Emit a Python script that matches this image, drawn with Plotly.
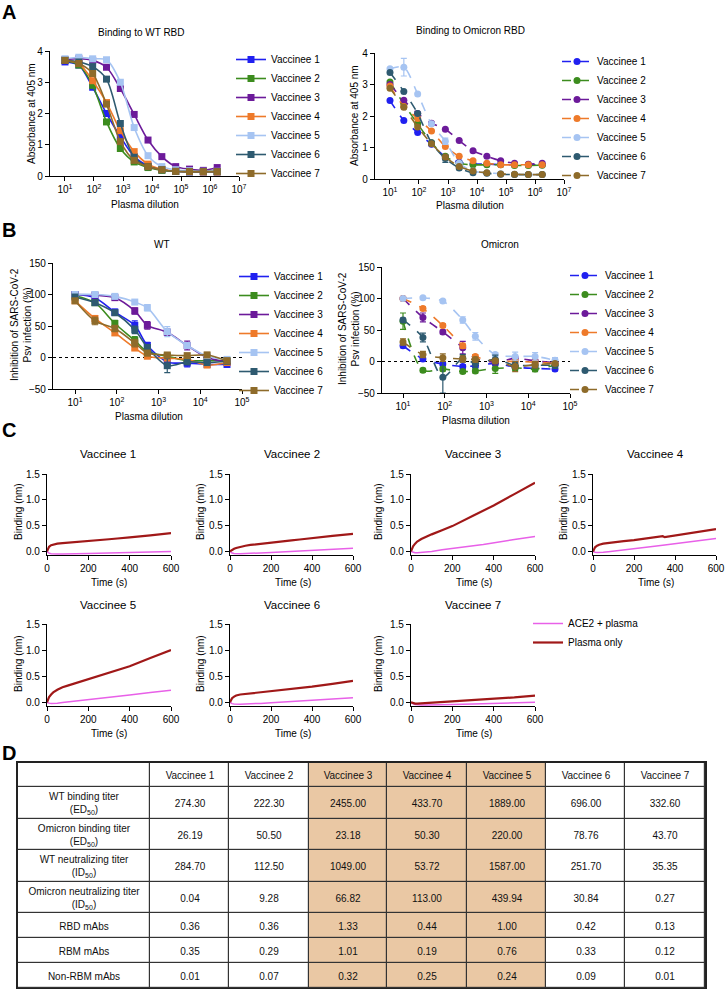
import plotly.graph_objects as go

FONT = "Arial, Liberation Sans, sans-serif"
W, H = 726, 989

names = ["Vaccinee 1", "Vaccinee 2", "Vaccinee 3", "Vaccinee 4",
         "Vaccinee 5", "Vaccinee 6", "Vaccinee 7"]
colors = ["#2020F0", "#3C8C1E", "#6C1A9A", "#EE7A2A", "#A6C4F2", "#2E5A70", "#8E6B2A"]

# A - ELISA binding, 3-fold dilutions
dil_binding = [10, 30, 90, 270, 810, 2430, 7290, 21870, 65610, 196830, 590490, 1771470]
wt_binding = [
    [3.65, 3.55, 2.84, 2.00, 1.26, 0.62, 0.33, 0.20, 0.15, 0.13, 0.13, 0.13],
    [3.70, 3.55, 2.90, 1.73, 0.88, 0.45, 0.27, 0.18, 0.15, 0.14, 0.14, 0.14],
    [3.72, 3.75, 3.70, 3.48, 2.80, 1.97, 1.15, 0.62, 0.30, 0.22, 0.18, 0.27],
    [3.70, 3.60, 3.05, 2.35, 1.45, 0.78, 0.38, 0.22, 0.15, 0.14, 0.13, 0.13],
    [3.75, 3.80, 3.75, 3.72, 3.00, 1.55, 0.65, 0.30, 0.20, 0.17, 0.15, 0.15],
    [3.70, 3.65, 3.50, 3.10, 1.68, 0.60, 0.30, 0.20, 0.15, 0.14, 0.14, 0.14],
    [3.70, 3.60, 3.28, 2.30, 1.10, 0.50, 0.30, 0.20, 0.15, 0.14, 0.14, 0.14],
]
omi_binding = [
    [2.49, 1.86, 1.48, 1.10, 0.71, 0.53, 0.48, 0.47, 0.46, 0.45, 0.45, 0.45],
    [3.08, 2.38, 1.75, 1.15, 0.72, 0.50, 0.45, 0.45, 0.45, 0.43, 0.43, 0.44],
    [3.00, 2.50, 2.08, 1.77, 1.58, 1.22, 0.90, 0.72, 0.58, 0.50, 0.47, 0.50],
    [2.95, 2.30, 1.92, 1.52, 1.03, 0.72, 0.58, 0.50, 0.45, 0.45, 0.45, 0.45],
    [3.50, 3.55, 2.70, 1.75, 1.20, 0.50, 0.25, 0.20, 0.17, 0.15, 0.14, 0.14],
    [3.38, 2.78, 2.08, 1.15, 0.65, 0.35, 0.20, 0.18, 0.15, 0.14, 0.14, 0.14],
    [2.88, 2.28, 1.65, 1.12, 0.70, 0.40, 0.25, 0.20, 0.16, 0.15, 0.14, 0.14],
]
omi_binding_err = [
    [0] * 12, [0] * 12, [0] * 12, [0] * 12,
    [0, 0.28, 0, 0, 0.1, 0, 0, 0, 0, 0, 0, 0],
    [0, 0, 0, 0, 0.12, 0.05, 0, 0, 0, 0, 0, 0],
    [0] * 12,
]

# B - pseudovirus neutralization
dil_neut = [10, 30, 90, 270, 540, 1620, 4860, 14580, 43740]
wt_neut = [
    [100, 95, 72, 51, 19, -7, -9, -11, -11],
    [98, 87, 54, 27, 9, 2, -5, -5, -5],
    [100, 99, 95, 74, 51, 40, 19, 0, -7],
    [90, 62, 39, 15, 2, -1, -3, -12, -8],
    [100, 100, 97, 88, 79, 41, 19, 2, -3],
    [96, 87, 71, 44, 16, -13, -7, -8, -6],
    [90, 58, 46, 23, 7, 4, 3, 4, -5],
]
wt_neut_err = [
    [2, 3, 5, 7, 5, 8, 6, 4, 4],
    [2, 4, 5, 6, 5, 5, 3, 3, 3],
    [2, 2, 3, 5, 6, 5, 7, 3, 3],
    [2, 3, 4, 3, 3, 3, 3, 3, 3],
    [2, 2, 2, 3, 5, 8, 4, 3, 3],
    [2, 4, 4, 6, 4, 11, 3, 3, 3],
    [2, 6, 5, 6, 4, 3, 3, 4, 3],
]
omi_neut = [
    [25, 4, -4, -8, -7, -3, -9, -11, -12],
    [64, -14, -12, -16, -15, -11, -10, -12, -6],
    [100, 70, 47, 22, 5, -1, 5, 1, -2],
    [100, 84, 57, 25, 8, 1, 0, -1, -3],
    [100, 101, 96, 66, 40, 11, 8, 8, 2],
    [66, 38, -25, 5, -3, 3, -6, -6, -6],
    [31, 11, 6, 4, 3, 1, -8, -5, -3],
]
omi_neut_err = [
    [3, 3, 3, 3, 3, 3, 3, 3, 3],
    [13, 3, 3, 3, 3, 8, 4, 4, 4],
    [2, 7, 3, 10, 3, 3, 3, 3, 3],
    [2, 3, 3, 4, 3, 3, 3, 3, 3],
    [2, 2, 2, 5, 6, 3, 7, 6, 4],
    [3, 7, 25, 6, 6, 7, 4, 4, 4],
    [5, 5, 6, 5, 4, 3, 8, 5, 3],
]

# C - BLI competition
time_s = [0, 5, 10, 20, 30, 50, 75, 100, 150, 200, 300, 340, 350, 400, 500, 600]
plasma_only = [
    [0, 0.06, 0.09, 0.12, 0.135, 0.15, 0.16, 0.17, 0.185, 0.20, 0.235, 0.25, 0.255, 0.27, 0.31, 0.355],
    [0, 0.015, 0.03, 0.05, 0.065, 0.09, 0.11, 0.125, 0.15, 0.17, 0.215, 0.23, 0.235, 0.26, 0.30, 0.34],
    [0, 0.06, 0.10, 0.15, 0.19, 0.24, 0.29, 0.33, 0.41, 0.49, 0.69, 0.77, 0.79, 0.89, 1.11, 1.33],
    [0, 0.05, 0.08, 0.11, 0.13, 0.15, 0.165, 0.18, 0.20, 0.22, 0.27, 0.295, 0.275, 0.305, 0.37, 0.43],
    [0, 0.06, 0.10, 0.15, 0.19, 0.24, 0.29, 0.32, 0.38, 0.44, 0.57, 0.61, 0.63, 0.69, 0.85, 1.00],
    [0, 0.05, 0.08, 0.11, 0.13, 0.15, 0.16, 0.175, 0.195, 0.215, 0.26, 0.275, 0.28, 0.30, 0.355, 0.41],
    [0, -0.01, -0.02, -0.025, -0.025, -0.02, -0.015, -0.01, 0.0, 0.01, 0.035, 0.045, 0.05, 0.06, 0.095, 0.13],
]
ace2_plasma = [
    [0, -0.02, -0.035, -0.045, -0.05, -0.05, -0.05, -0.05, -0.045, -0.04, -0.03, -0.025, -0.025, -0.02, -0.01, 0.0],
    [0, -0.02, -0.03, -0.04, -0.045, -0.045, -0.04, -0.04, -0.03, -0.02, 0.0, 0.01, 0.01, 0.02, 0.04, 0.06],
    [0, -0.01, -0.02, -0.025, -0.025, -0.02, -0.01, 0.0, 0.03, 0.06, 0.11, 0.13, 0.135, 0.17, 0.23, 0.29],
    [0, -0.01, -0.015, -0.02, -0.02, -0.015, -0.005, 0.005, 0.03, 0.05, 0.10, 0.12, 0.125, 0.15, 0.20, 0.25],
    [0, -0.01, -0.015, -0.02, -0.02, -0.015, -0.005, 0.005, 0.025, 0.05, 0.09, 0.11, 0.115, 0.14, 0.19, 0.23],
    [0, -0.015, -0.025, -0.03, -0.035, -0.035, -0.03, -0.03, -0.02, -0.01, 0.015, 0.025, 0.03, 0.04, 0.07, 0.09],
    [0, -0.02, -0.03, -0.04, -0.045, -0.05, -0.05, -0.05, -0.045, -0.04, -0.03, -0.025, -0.025, -0.02, -0.01, 0.0],
]

# D - summary table
table_header = [""] + names
row_labels = ["WT binding titer<br>(ED<sub>50</sub>)", "Omicron binding titer<br>(ED<sub>50</sub>)",
              "WT neutralizing titer<br>(ID<sub>50</sub>)", "Omicron neutralizing titer<br>(ID<sub>50</sub>)",
              "RBD mAbs", "RBM mAbs", "Non-RBM mAbs"]
table_values = [
    ["274.30", "26.19", "284.70", "0.04", "0.36", "0.35", "0.01"],
    ["222.30", "50.50", "112.50", "9.28", "0.36", "0.29", "0.07"],
    ["2455.00", "23.18", "1049.00", "66.82", "1.33", "1.01", "0.32"],
    ["433.70", "50.30", "53.72", "113.00", "0.44", "0.19", "0.25"],
    ["1889.00", "220.00", "1587.00", "439.94", "1.00", "0.76", "0.24"],
    ["696.00", "78.76", "251.70", "30.84", "0.42", "0.33", "0.09"],
    ["332.60", "43.70", "35.35", "0.27", "0.13", "0.12", "0.01"],
]
highlight = [0, 0, 0, 1, 1, 1, 0, 0]   # first entry is the label column
TAN = "#EAC8A4"

# table geometry (pixels), used as heatmap brick edges
col_widths = [132, 79, 80, 78, 80, 79, 79, 80]
row_heights = [24, 32, 31, 32, 31, 25, 25, 25]


def fx(p):
    return p / W


def fy(p):
    return 1 - p / H


def edges(sizes):
    out = [0]
    for s in sizes:
        out.append(out[-1] + s)
    return out


fig = go.Figure()

# A
for i in range(7):
    fig.add_trace(go.Scatter(
        x=dil_binding, y=wt_binding[i], name=names[i], mode="lines+markers",
        line=dict(color=colors[i], width=1.6, shape="spline", smoothing=0.8),
        marker=dict(symbol="square", size=7, color=colors[i]),
        xaxis="x", yaxis="y", legend="legend"))
for i in range(7):
    fig.add_trace(go.Scatter(
        x=dil_binding, y=omi_binding[i], name=names[i], mode="lines+markers",
        line=dict(color=colors[i], width=1.6, shape="spline", smoothing=0.8, dash="dash"),
        marker=dict(symbol="circle", size=7, color=colors[i]),
        error_y=dict(array=omi_binding_err[i], color=colors[i], thickness=1.2, width=3),
        xaxis="x2", yaxis="y2", legend="legend2"))

# B
for i in range(7):
    fig.add_trace(go.Scatter(
        x=dil_neut, y=wt_neut[i], name=names[i], mode="lines+markers",
        line=dict(color=colors[i], width=1.6, shape="spline", smoothing=0.8),
        marker=dict(symbol="square", size=7, color=colors[i]),
        error_y=dict(array=wt_neut_err[i], color=colors[i], thickness=1.2, width=3),
        xaxis="x3", yaxis="y3", legend="legend3"))
for i in range(7):
    fig.add_trace(go.Scatter(
        x=dil_neut, y=omi_neut[i], name=names[i], mode="lines+markers",
        line=dict(color=colors[i], width=1.6, shape="spline", smoothing=0.8, dash="dash"),
        marker=dict(symbol="circle", size=7, color=colors[i]),
        error_y=dict(array=omi_neut_err[i], color=colors[i], thickness=1.2, width=3),
        xaxis="x4", yaxis="y4", legend="legend4"))

# C
for i in range(7):
    ax = str(5 + i)
    fig.add_trace(go.Scatter(
        x=time_s, y=ace2_plasma[i], name="ACE2 + plasma", mode="lines",
        line=dict(color="#E860E8", width=1.5), showlegend=(i == 0),
        xaxis="x" + ax, yaxis="y" + ax, legend="legend5"))
    fig.add_trace(go.Scatter(
        x=time_s, y=plasma_only[i], name="Plasma only", mode="lines",
        line=dict(color="#A01818", width=2.2), showlegend=(i == 0),
        xaxis="x" + ax, yaxis="y" + ax, legend="legend5"))

# D - table drawn as a heatmap of bricks
cell_text = [table_header]
cell_z = [highlight]
for r in range(len(row_labels)):
    cell_text.append([row_labels[r]] + [col[r] for col in table_values])
    cell_z.append(highlight)

fig.add_trace(go.Heatmap(
    x=edges(col_widths), y=edges(row_heights), z=cell_z, text=cell_text,
    texttemplate="%{text}", textfont=dict(family=FONT, size=10, color="#111"),
    colorscale=[[0, "white"], [1, TAN]], zmin=0, zmax=1, showscale=False,
    xgap=1.2, ygap=1.2, hoverinfo="skip", xaxis="x12", yaxis="y12"))

axis_common = dict(showline=True, linecolor="black", linewidth=1.3, ticks="outside",
                   ticklen=4, tickwidth=1.2, tickcolor="black", showgrid=False,
                   zeroline=False, tickfont=dict(family=FONT, size=10, color="black"))

log_ticks_a = [10 ** k for k in range(1, 8)]
log_text_a = ["10<sup>%d</sup>" % k for k in range(1, 8)]
log_ticks_b = [10 ** k for k in range(1, 6)]
log_text_b = ["10<sup>%d</sup>" % k for k in range(1, 6)]

layout_axes = {
    "xaxis": dict(axis_common, type="log", range=[0.483, 7], domain=[fx(50), fx(239)],
                  tickvals=log_ticks_a, ticktext=log_text_a, anchor="y"),
    "yaxis": dict(axis_common, range=[0, 4], dtick=1, domain=[fy(176), fy(51)], anchor="x"),
    "xaxis2": dict(axis_common, type="log", range=[0.483, 7], domain=[fx(375), fx(564)],
                   tickvals=log_ticks_a, ticktext=log_text_a, anchor="y2"),
    "yaxis2": dict(axis_common, range=[0, 4], dtick=1, domain=[fy(179), fy(53)], anchor="x2"),
    "xaxis3": dict(axis_common, type="log", range=[0.472, 5], domain=[fx(53), fx(242)],
                   tickvals=log_ticks_b, ticktext=log_text_b, anchor="y3"),
    "yaxis3": dict(axis_common, range=[-50, 150], dtick=50, domain=[fy(389), fy(263)], anchor="x3"),
    "xaxis4": dict(axis_common, type="log", range=[0.497, 5], domain=[fx(382), fx(570)],
                   tickvals=log_ticks_b, ticktext=log_text_b, anchor="y4"),
    "yaxis4": dict(axis_common, range=[-50, 150], dtick=50, domain=[fy(393), fy(267)], anchor="x4"),
    "xaxis12": dict(domain=[fx(18), fx(705)], range=[0, sum(col_widths)], anchor="y12",
                    showline=True, mirror=True, linecolor="#222", linewidth=1.5,
                    showticklabels=False, ticks="", showgrid=False, zeroline=False),
    "yaxis12": dict(domain=[fy(988), fy(763)], range=[sum(row_heights), 0], anchor="x12",
                    showline=True, mirror=True, linecolor="#222", linewidth=1.5,
                    showticklabels=False, ticks="", showgrid=False, zeroline=False),
}

c_x = [(47, 171), (230, 353), (411, 535), (593, 716), (47, 171), (230, 353), (411, 535)]
c_y = [(474, 555)] * 4 + [(624, 706)] * 3
for i in range(7):
    ax = str(5 + i)
    layout_axes["xaxis" + ax] = dict(axis_common, range=[0, 600], tickvals=[0, 200, 400, 600],
                                     domain=[fx(c_x[i][0]), fx(c_x[i][1])], anchor="y" + ax)
    layout_axes["yaxis" + ax] = dict(axis_common, range=[-0.07, 1.5], tickvals=[0, 0.5, 1.0, 1.5],
                                     ticktext=["0.0", "0.5", "1.0", "1.5"],
                                     domain=[fy(c_y[i][1]), fy(c_y[i][0])], anchor="x" + ax)

annots = []


def note(text, x, y, size=10, angle=0, bold=False):
    if bold:
        text = "<b>" + text + "</b>"
    annots.append(dict(text=text, x=fx(x), y=fy(y), xref="paper", yref="paper",
                       showarrow=False, textangle=angle, xanchor="center", yanchor="middle",
                       font=dict(family=FONT, size=size, color="black")))


for lab, x, y in [("A", 9, 12), ("B", 9, 230), ("C", 9, 430), ("D", 9, 753)]:
    note(lab, x, y, size=20, bold=True)

note("Binding to WT RBD", 141, 32)
note("Binding to Omicron RBD", 471, 31)
note("WT", 162, 244)
note("Omicron", 500, 244)
note("Plasma dilution", 145, 204)
note("Plasma dilution", 470, 205)
note("Plasma dilution", 149, 417)
note("Plasma dilution", 476, 420)
note("Absorbance at 405 nm", 31, 114, angle=-90)
note("Absorbance at 405 nm", 355, 116, angle=-90)
note("Inhibition of SARS-CoV-2<br>Psv infection (%)", 21, 325, angle=-90)
note("Inhibition of SARS-CoV-2<br>Psv infection (%)", 349, 329, angle=-90)

c_title_x = [108, 292, 473, 655, 108, 292, 473]
c_ylab_x = [18, 200, 378, 563, 18, 200, 378]
for i in range(7):
    row2 = i >= 4
    note(names[i], c_title_x[i], 605 if row2 else 454, size=11.5)
    note("Binding (nm)", c_ylab_x[i], 664 if row2 else 512, angle=-90)
    note("Time (s)", c_title_x[i] + 1, 733 if row2 else 582)

shapes = []
for xr, yr in [("x3", "y3"), ("x4", "y4")]:
    shapes.append(dict(type="line", xref=xr + " domain", yref=yr, x0=0, x1=1, y0=0, y1=0,
                       line=dict(color="black", width=1, dash="dot"), layer="below"))
# grid colour showing through the gaps between table bricks
shapes.append(dict(type="rect", xref="x12 domain", yref="y12 domain", x0=0, x1=1, y0=0, y1=1,
                   fillcolor="#333333", line=dict(width=0), layer="below"))

legend_common = dict(font=dict(family=FONT, size=10, color="black"), bgcolor="rgba(0,0,0,0)",
                     xanchor="left", yanchor="top", itemwidth=30, tracegroupgap=0)

fig.update_layout(
    width=W, height=H,
    margin=dict(l=0, r=0, t=0, b=0, autoexpand=False),
    paper_bgcolor="white", plot_bgcolor="white",
    font=dict(family=FONT, color="black"),
    annotations=annots,
    shapes=shapes,
    legend=dict(legend_common, x=fx(231), y=fy(45)),
    legend2=dict(legend_common, x=fx(557), y=fy(47)),
    legend3=dict(legend_common, x=fx(234), y=fy(262)),
    legend4=dict(legend_common, x=fx(565), y=fy(261)),
    legend5=dict(legend_common, x=fx(528), y=fy(609)),
    **layout_axes,
)

# the page body has a default 8px margin; drop it so the figure fills the window
fig.write_html("out.html", config={"displayModeBar": False},
               post_script="document.body.style.margin = '0';")
